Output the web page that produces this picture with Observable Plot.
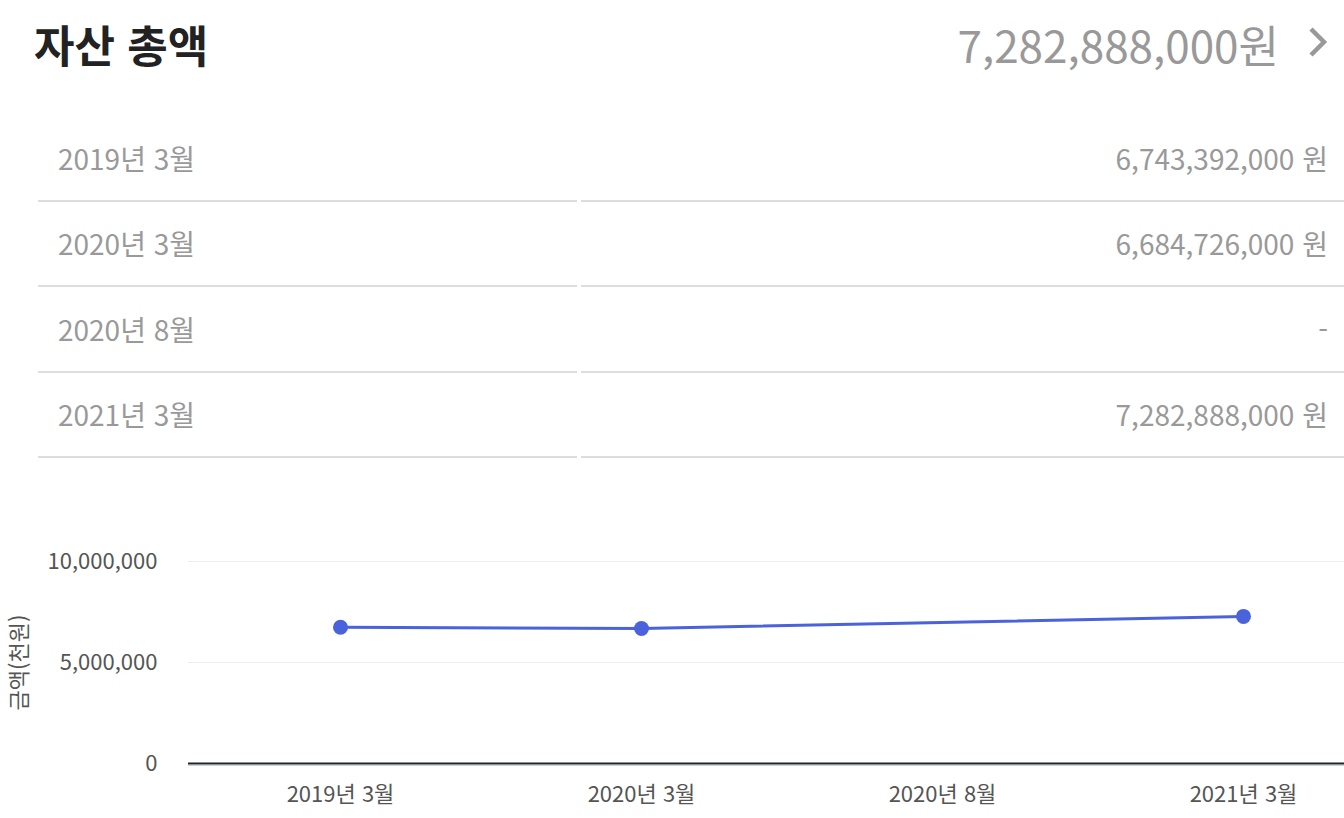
<!DOCTYPE html>
<html lang="ko">
<head>
<meta charset="utf-8">
<script src="https://cdn.jsdelivr.net/npm/d3@7"></script>
<script src="https://cdn.jsdelivr.net/npm/@observablehq/plot@0.6"></script>
<style>
  html, body { margin: 0; padding: 0; background: #fff; }
  body {
    width: 1344px; height: 818px; overflow: hidden; position: relative;
    font-family: "Noto Sans CJK KR", "Noto Sans", sans-serif;
  }
  #title {
    position: absolute; left: 34px; top: 14px;
    font-size: 44px; font-weight: 700; color: #222; line-height: 60px;
  }
  #total {
    position: absolute; right: 65px; top: 14px;
    font-size: 44px; color: #999; line-height: 60px;
  }
  #chevron { position: absolute; left: 1306px; top: 25px; }
  #table {
    position: absolute; left: 38px; top: 116px; width: 1306px;
    display: grid; grid-template-columns: 539px 763px; column-gap: 4px;
  }
  #table .cell {
    height: 83.5px; border-bottom: 2px solid #ddd;
    display: flex; align-items: center;
    font-size: 28px; color: #999;
  }
  #table .label { padding-left: 20px; }
  #table .value { justify-content: flex-end; padding-right: 16px; }
  #chart { position: absolute; left: 0; top: 530px; }
  #chart svg { max-width: none !important; }
</style>
</head>
<body>
<div id="title"></div>
<div id="total"></div>
<svg id="chevron" width="24" height="34" viewBox="0 0 24 34">
  <polyline points="5,4 18,17 5,30" fill="none" stroke="#999" stroke-width="4.5"/>
</svg>
<div id="table"></div>
<div id="chart"></div>
<script>
// 기간별 자산 총액 (단위: 천원), 미공개 시점은 null
const periods = ["2019년 3월", "2020년 3월", "2020년 8월", "2021년 3월"];
const amounts = [6743392, 6684726, null, 7282888];
const yTicks = [0, 5000000, 10000000];
const titleText = "자산 총액";
const yLabel = "금액(천원)";

const fmt = d3.format(",");
const rows = periods.map((period, i) => ({period, amount: amounts[i]}));
const known = rows.filter(d => d.amount != null);

// 머리글: 가장 최근 시점의 총액
document.getElementById("title").textContent = titleText;
document.getElementById("total").textContent = fmt(known[known.length - 1].amount * 1000) + "원";

// 시점별 금액 표
const table = document.getElementById("table");
for (const d of rows) {
  const l = document.createElement("div");
  l.className = "cell label";
  l.textContent = d.period;
  const v = document.createElement("div");
  v.className = "cell value";
  v.textContent = d.amount == null ? "-" : fmt(d.amount * 1000) + " 원";
  table.append(l, v);
}

// 추이 그래프
const color = "#4a63dc";
const chart = Plot.plot({
  width: 1394,
  height: 288,
  marginLeft: 188,
  marginRight: 0,
  marginTop: 31,
  marginBottom: 55,
  style: {fontFamily: "'Noto Sans CJK KR', sans-serif", fontSize: "22px", color: "#555", background: "transparent", maxWidth: "none"},
  x: {type: "point", domain: periods, padding: 0.5},
  y: {domain: [0, 10000000]},
  marks: [
    Plot.gridY(yTicks.slice(1), {stroke: "#eee", strokeOpacity: 1}),
    Plot.ruleY([0], {stroke: "#c8d0e8", strokeWidth: 1, dy: 2}),
    Plot.ruleY([0], {stroke: "#222", strokeWidth: 2}),
    Plot.axisY(yTicks, {
      tickSize: 0, tickPadding: 31, tickFormat: fmt,
      label: yLabel, labelAnchor: "center", labelArrow: false, labelOffset: 177, fill: "#555"
    }),
    Plot.axisX({tickSize: 0, tickPadding: 23, label: null, fill: "#555"}),
    Plot.line(known, {x: "period", y: "amount", stroke: color, strokeWidth: 3}),
    Plot.dot(known, {x: "period", y: "amount", r: 7.5, fill: color})
  ]
});
document.getElementById("chart").append(chart);
</script>
</body>
</html>
